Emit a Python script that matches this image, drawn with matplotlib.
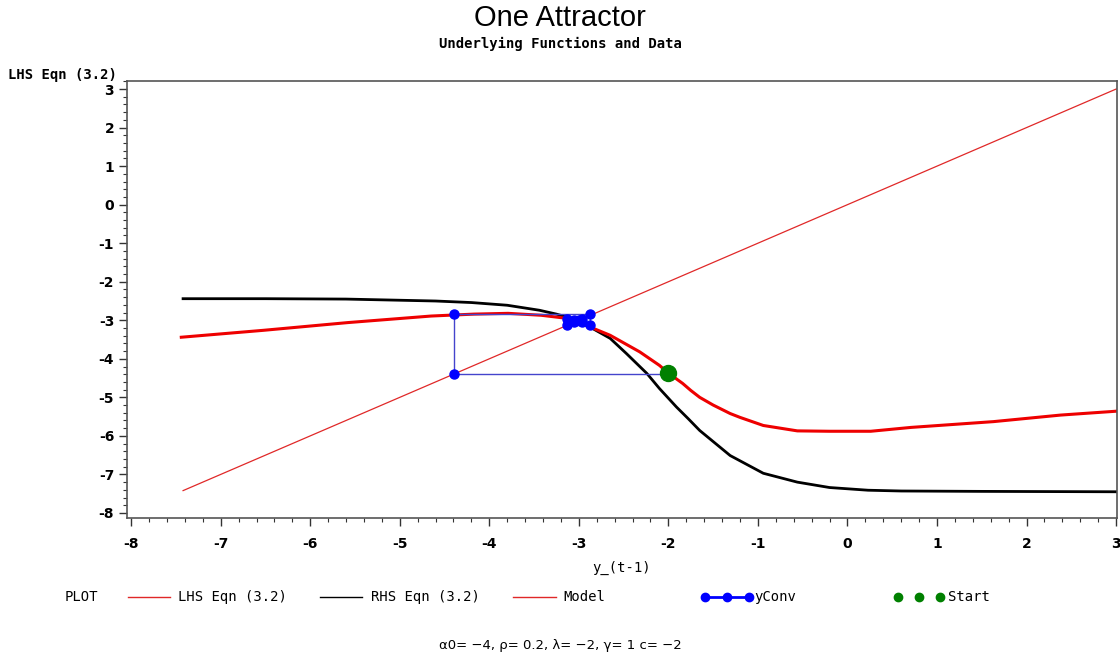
import numpy as np
import matplotlib.pyplot as plt
from matplotlib.lines import Line2D
from matplotlib.ticker import MultipleLocator

plt.rcParams["axes.unicode_minus"] = False

# LHS of eqn (3.2): the 45 degree line
lhs_x = [-7.42, 3.0]
lhs_y = [-7.42, 3.0]

# RHS of eqn (3.2)
rhs_x = [-7.42, -6.5, -5.6, -4.6, -4.2, -3.8, -3.44, -3.25, -3.1, -2.88, -2.65, -2.47,
         -2.24, -2.10, -1.91, -1.78, -1.65, -1.31, -0.94, -0.56, -0.20, 0.23, 0.6, 1.5, 3.0]
rhs_y = [-2.44, -2.44, -2.45, -2.50, -2.54, -2.61, -2.74, -2.84, -2.94, -3.17, -3.47, -3.86,
         -4.38, -4.77, -5.25, -5.55, -5.86, -6.51, -6.97, -7.20, -7.34, -7.41, -7.43, -7.44, -7.45]

# fitted model
mod_x = [-7.44, -6.52, -5.58, -4.65, -4.17, -3.79, -3.42, -3.17, -2.88, -2.65, -2.32,
         -2.10, -2.0, -1.84, -1.75, -1.65, -1.50, -1.31, -1.20, -0.94, -0.75, -0.56,
         -0.20, 0.26, 0.71, 1.63, 2.38, 3.0]
mod_y = [-3.44, -3.26, -3.06, -2.89, -2.84, -2.82, -2.87, -2.94, -3.17, -3.39, -3.82,
         -4.17, -4.37, -4.64, -4.82, -5.00, -5.20, -5.42, -5.52, -5.73, -5.80, -5.87,
         -5.88, -5.88, -5.78, -5.63, -5.46, -5.36]

# cobweb path of the iteration
conv_x = [-2.0, -4.39, -4.39, -2.88, -2.88, -3.13, -3.13, -2.97, -2.97, -3.05, -3.05, -3.0]
conv_y = [-4.39, -4.39, -2.84, -2.84, -3.13, -3.13, -2.97, -2.97, -3.05, -3.05, -3.0, -3.0]

start_x = [-2.0]
start_y = [-4.37]

mono = "DejaVu Sans Mono"

fig = plt.figure(figsize=(11.2, 6.55), dpi=100)
ax = fig.add_axes([0.1131, 0.2092, 0.8842, 0.6672])

ax.plot(lhs_x, lhs_y, color="#e02828", lw=0.9)
ax.plot(rhs_x, rhs_y, color="black", lw=2)
ax.plot(mod_x, mod_y, color="#ee0000", lw=2.2)
ax.plot(conv_x, conv_y, color="#4444cc", lw=1, marker="o", ms=6.5,
        mfc="blue", mec="blue")
ax.plot(start_x, start_y, "o", color="#008000", ms=11.5)

ax.set_xlim(-8.05, 3.01)
ax.set_ylim(-8.13, 3.21)
ax.xaxis.set_major_locator(MultipleLocator(1))
ax.xaxis.set_minor_locator(MultipleLocator(0.2))
ax.yaxis.set_major_locator(MultipleLocator(1))
ax.yaxis.set_minor_locator(MultipleLocator(0.2))
ax.set_yticks(np.arange(-8, 4))
ax.tick_params(which="both", direction="out", color="#333333")
ax.tick_params(which="major", length=6, width=1)
ax.tick_params(which="minor", length=3, width=0.8)
ax.tick_params(axis="x", pad=8)
ax.tick_params(axis="y", pad=3)
for lab in ax.get_xticklabels() + ax.get_yticklabels():
    lab.set_fontweight("bold")
    lab.set_fontsize(10)
for s in ax.spines.values():
    s.set_color("#555555")
    s.set_linewidth(1.2)

ax.set_xlabel("y_(t-1)", family=mono, fontsize=10, labelpad=7)

fig.text(0.5, 0.972, "One Attractor", ha="center", va="center",
         family="Liberation Sans", fontsize=21)
fig.text(0.5, 0.933, "Underlying Functions and Data", ha="center", va="center",
         family=mono, fontsize=10, fontweight="bold")
fig.text(0.007, 1 - 75 / 655, "LHS Eqn (3.2)", ha="left", va="center",
         family=mono, fontsize=10, fontweight="bold")

# legend row
ly = 1 - 597 / 655
W = 1120.0
fig.text(65 / W, ly, "PLOT", ha="left", va="center", family=mono, fontsize=10)

def leg_line(x0, x1, **kw):
    fig.add_artist(Line2D([x0 / W, x1 / W], [ly, ly], transform=fig.transFigure, **kw))

leg_line(128, 170, color="#e02828", lw=1)
fig.text(178 / W, ly, "LHS Eqn (3.2)", ha="left", va="center", family=mono, fontsize=10)
leg_line(320, 362, color="black", lw=1)
fig.text(371 / W, ly, "RHS Eqn (3.2)", ha="left", va="center", family=mono, fontsize=10)
leg_line(513, 556, color="#e02828", lw=1)
fig.text(563 / W, ly, "Model", ha="left", va="center", family=mono, fontsize=10)
fig.add_artist(Line2D(np.array([705, 727, 749]) / W, [ly] * 3, transform=fig.transFigure,
                      color="blue", lw=2, marker="o", ms=6))
fig.text(754 / W, ly, "yConv", ha="left", va="center", family=mono, fontsize=10)
fig.add_artist(Line2D(np.array([898, 919, 940]) / W, [ly] * 3, transform=fig.transFigure,
                      color="#008000", lw=0, marker="o", ms=6))
fig.text(948 / W, ly, "Start", ha="left", va="center", family=mono, fontsize=10)

fig.text(0.5, 1 - 646 / 655, "α0= −4, ρ= 0.2, λ= −2, γ= 1 c= −2",
         ha="center", va="center", fontsize=9.5)

fig.savefig("out.png", dpi=100)
